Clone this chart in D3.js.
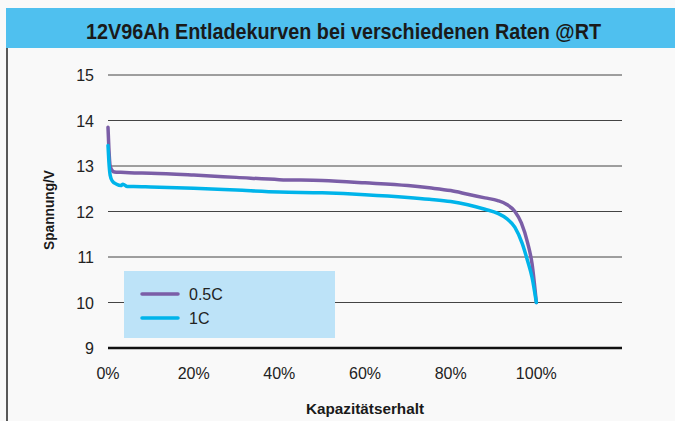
<!DOCTYPE html>
<html>
<head>
<meta charset="utf-8">
<script src="https://cdn.jsdelivr.net/npm/d3@7"></script>
<style>
  body { margin: 0; background: #f9f9f9; }
  svg { display: block; }
</style>
</head>
<body>
<div id="chart"></div>
<script>
// capacity in %, voltage in V
const capHalfC = [0, 0.2, 0.5, 1, 1.5, 3, 5, 10, 20, 30, 40, 50, 60, 70, 75, 80, 84, 88, 91, 93, 95, 96.5, 98, 99, 100];
const voltHalfC = [13.85, 13.4, 13.0, 12.9, 12.87, 12.86, 12.85, 12.84, 12.8, 12.75, 12.7, 12.68, 12.63, 12.57, 12.52, 12.46, 12.38, 12.3, 12.24, 12.16, 12.0, 11.75, 11.3, 10.85, 10.0];

const capOneC = [0, 0.2, 0.5, 1, 2, 3, 3.5, 4.5, 6, 10, 20, 30, 40, 50, 60, 70, 75, 80, 84, 88, 91, 93, 95, 96.7, 98, 99, 100];
const voltOneC = [13.45, 13.1, 12.8, 12.67, 12.6, 12.57, 12.6, 12.55, 12.55, 12.54, 12.51, 12.47, 12.43, 12.41, 12.37, 12.31, 12.27, 12.22, 12.15, 12.05, 11.96, 11.85, 11.65, 11.3, 10.9, 10.55, 10.0];

const yTicks = [9, 10, 11, 12, 13, 14, 15];
const xTicks = [0, 20, 40, 60, 80, 100];
const seriesNames = ['0.5C', '1C'];
const colors = ['#7b5ea7', '#00b4ea'];

const W = 675, H = 421;
const margin = { top: 75, right: 53, bottom: 73, left: 108 };
const width = W - margin.left - margin.right,
    height = H - margin.top - margin.bottom;

const svg = d3.select('#chart').append('svg')
    .attr('width', W)
    .attr('height', H);

// title bar
svg.append('rect')
    .attr('x', 6).attr('y', 8)
    .attr('width', W - 6).attr('height', 40)
    .attr('fill', '#4fc0ef');
svg.append('text')
    .attr('x', 86).attr('y', 39)
    .attr('textLength', 515)
    .attr('lengthAdjust', 'spacingAndGlyphs')
    .attr('font-family', '"Liberation Sans", Arial, sans-serif')
    .attr('font-weight', 'bold')
    .attr('font-size', 22)
    .attr('fill', '#1a1a1a')
    .text('12V96Ah Entladekurven bei verschiedenen Raten @RT');

// left frame line
svg.append('line')
    .attr('x1', 7).attr('x2', 7)
    .attr('y1', 48).attr('y2', H)
    .attr('stroke', '#222').attr('stroke-width', 1.5);

const x = d3.scaleLinear().domain([0, 120]).range([0, width]);
const y = d3.scaleLinear().domain([9, 15]).range([height, 0]);

const main = svg.append('g')
    .attr('transform', 'translate(' + margin.left + ',' + margin.top + ')');

// horizontal grid
main.append('g')
    .selectAll('line')
    .data(yTicks.filter(d => d !== 9))
    .enter().append('line')
    .attr('x1', 0).attr('x2', width)
    .attr('y1', d => y(d)).attr('y2', d => y(d))
    .attr('stroke', '#444').attr('stroke-width', 1);

// y labels
main.append('g')
    .selectAll('text')
    .data(yTicks)
    .enter().append('text')
    .attr('x', -14)
    .attr('y', d => y(d) + 6)
    .attr('text-anchor', 'end')
    .attr('font-family', '"Liberation Sans", Arial, sans-serif')
    .attr('font-size', 16)
    .attr('fill', '#222')
    .text(d => d);

// x labels
main.append('g')
    .selectAll('text')
    .data(xTicks)
    .enter().append('text')
    .attr('x', d => x(d))
    .attr('y', height + 31)
    .attr('text-anchor', 'middle')
    .attr('font-family', '"Liberation Sans", Arial, sans-serif')
    .attr('font-size', 16)
    .attr('fill', '#222')
    .text(d => d + '%');

// axis titles
svg.append('text')
    .attr('x', 365).attr('y', 414)
    .attr('text-anchor', 'middle')
    .attr('textLength', 118)
    .attr('lengthAdjust', 'spacingAndGlyphs')
    .attr('font-family', '"Liberation Sans", Arial, sans-serif')
    .attr('font-weight', 'bold')
    .attr('font-size', 15)
    .attr('fill', '#1a1a1a')
    .text('Kapazitätserhalt');

svg.append('text')
    .attr('transform', 'translate(54,' + 210 + ') rotate(-90)')
    .attr('text-anchor', 'middle')
    .attr('textLength', 80)
    .attr('lengthAdjust', 'spacingAndGlyphs')
    .attr('font-family', '"Liberation Sans", Arial, sans-serif')
    .attr('font-weight', 'bold')
    .attr('font-size', 15)
    .attr('fill', '#1a1a1a')
    .text('Spannung/V');

// legend box
const legend = main.append('g')
    .attr('transform', 'translate(16,' + (y(11) + 14) + ')');
legend.append('rect')
    .attr('width', 211).attr('height', 67)
    .attr('fill', '#bde3f8');

// baseline
main.append('line')
    .attr('x1', 0).attr('x2', width)
    .attr('y1', y(9)).attr('y2', y(9))
    .attr('stroke', '#111').attr('stroke-width', 2.5);

const line = d3.line()
    .x(d => x(d[0]))
    .y(d => y(d[1]))
    .curve(d3.curveMonotoneX);

const series = [
    d3.zip(capHalfC, voltHalfC),
    d3.zip(capOneC, voltOneC)
];

main.selectAll('path.curve')
    .data(series)
    .enter().append('path')
    .attr('class', 'curve')
    .attr('d', d => line(d))
    .attr('fill', 'none')
    .attr('stroke', (d, i) => colors[i])
    .attr('stroke-width', 3.5)
    .attr('stroke-linejoin', 'round')
    .attr('stroke-linecap', 'round');

seriesNames.forEach((name, i) => {
    const ly = 23 + i * 24;
    legend.append('line')
        .attr('x1', 18).attr('x2', 54)
        .attr('y1', ly).attr('y2', ly)
        .attr('stroke', colors[i])
        .attr('stroke-width', 3.5)
        .attr('stroke-linecap', 'round');
    legend.append('text')
        .attr('x', 65).attr('y', ly + 6)
        .attr('font-family', '"Liberation Sans", Arial, sans-serif')
        .attr('font-size', 16)
        .attr('fill', '#222')
        .text(name);
});
</script>
</body>
</html>
